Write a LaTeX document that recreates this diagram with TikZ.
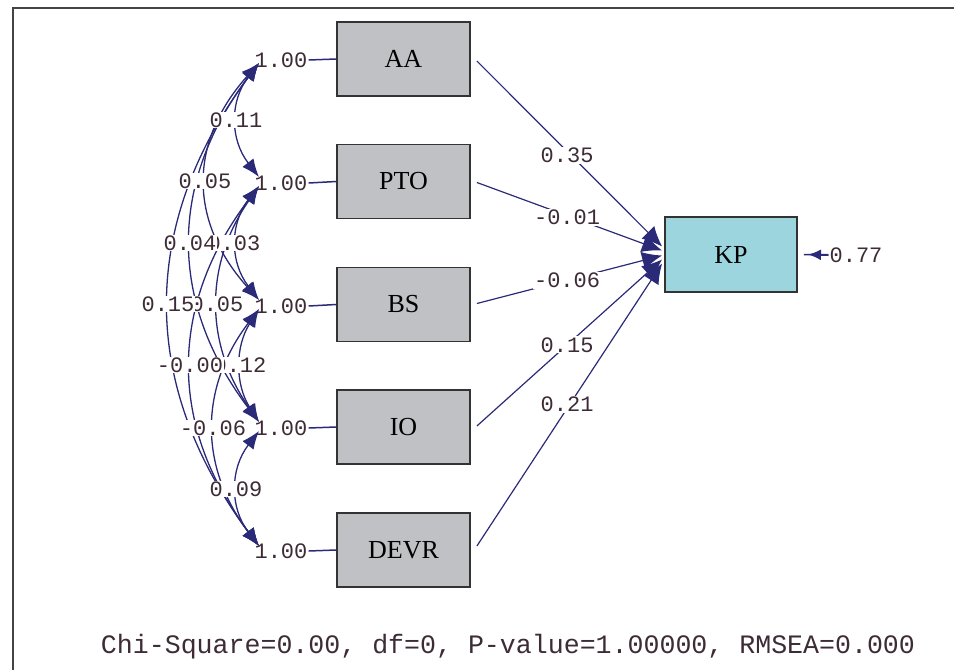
\documentclass[tikz,border=0pt]{standalone}
\usepackage{fontspec}
\setmainfont{Liberation Serif}
\setmonofont{Liberation Mono}
\usetikzlibrary{arrows.meta,calc}
\definecolor{navy}{HTML}{2B2A78}
\definecolor{boxgray}{HTML}{C0C1C4}
\definecolor{kpblue}{HTML}{9DD5DF}
\definecolor{numtxt}{HTML}{3D2B36}
\definecolor{framecol}{HTML}{444444}
\newcommand{\covcurve}[3]{%
  \draw[cov] (#1) .. controls ($(#1)!0.333!(#2)+({-4*#3/3},0)$) and ($(#1)!0.667!(#2)+({-4*#3/3},0)$) .. (#2);}
\begin{document}
\begin{tikzpicture}[x=1pt,y=-1pt,
  obs/.style={draw=black!80, line width=1.8pt, fill=boxgray, minimum width=133pt, minimum height=74pt, inner sep=0pt, font=\fontsize{26}{26}\selectfont},
  num/.style={font=\ttfamily\fontsize{22}{22}\selectfont, text=numtxt, inner sep=1pt},
  numbg/.style={num, fill=white},
  pathar/.style={navy, line width=1.2pt, -{Latex[length=20pt,width=18pt]}},
  cov/.style={navy, line width=1.3pt, {Latex[length=18pt,width=14pt]}-{Latex[length=18pt,width=14pt]}},
  varline/.style={navy, line width=1.5pt}]
\useasboundingbox (0,0) rectangle (954,670);
% frame
\draw[framecol, line width=2pt] (13,670) -- (13,8) -- (954,8);
% observed boxes
\node[obs] (AA) at (403.5,59) {AA};
\node[obs] (PTO) at (403.5,181.5) {PTO};
\node[obs] (BS) at (403.5,304.5) {BS};
\node[obs] (IO) at (403.5,427) {IO};
\node[obs] (DEVR) at (403.5,550) {DEVR};
\node[obs, fill=kpblue, minimum width=132pt, minimum height=75pt] (KP) at (731,254.5) {KP};
% variances
\node[num] (v1) at (281,60) {1.00};
\node[num] (v2) at (281,183) {1.00};
\node[num] (v3) at (281,306) {1.00};
\node[num] (v4) at (281,428) {1.00};
\node[num] (v5) at (281,551) {1.00};
\foreach \v/\b in {v1/AA,v2/PTO,v3/BS,v4/IO,v5/DEVR}{\draw[varline] (\v.east) -- (\b.west);}
% curve end points
\coordinate (c1b) at (259,63);
\coordinate (c2t) at (259,177);
\coordinate (c2b) at (259,186);
\coordinate (c3t) at (259,300);
\coordinate (c3b) at (259,309);
\coordinate (c4t) at (259,422);
\coordinate (c4b) at (259,431);
\coordinate (c5t) at (259,546);
% covariance curves
\covcurve{c1b}{c2t}{22}
\covcurve{c2b}{c3t}{22}
\covcurve{c3b}{c4t}{18}
\covcurve{c4b}{c5t}{22}
\covcurve{c1b}{c3t}{53}
\covcurve{c2b}{c4t}{41}
\covcurve{c3b}{c5t}{45}
\covcurve{c1b}{c4t}{68}
\covcurve{c2b}{c5t}{68}
\covcurve{c1b}{c5t}{90}
% covariance labels
\node[numbg] (l12) at (236,120) {0.11};
\node[numbg] (l23) at (234,243) {0.03};
\node[numbg] (l34) at (240,365) {0.12};
\node[numbg] (l45) at (236,489) {0.09};
\node[numbg] (l13) at (205,181) {0.05};
\node[numbg] (l24) at (217,304) {0.05};
\node[numbg] (l35) at (213,428) {-0.06};
\node[numbg] (l14) at (190,243) {0.04};
\node[numbg] (l25) at (190,365) {-0.00};
\node[numbg] (l15) at (168,304) {0.15};
% paths to KP
\draw[pathar] ([xshift=6pt,yshift=-2pt]AA.east) -- ([xshift=-2pt,yshift=8pt]KP.west) node[numbg, pos=0.487, yshift=-4pt] {0.35};
\draw[pathar] ([xshift=6pt,yshift=-1pt]PTO.east) -- ([xshift=-2pt,yshift=4pt]KP.west) node[numbg, pos=0.487, yshift=-2pt] {-0.01};
\draw[pathar] ([xshift=6pt,yshift=1pt]BS.east) -- ([xshift=-2pt,yshift=-1pt]KP.west) node[numbg, pos=0.487] {-0.06};
\draw[pathar] ([xshift=6pt,yshift=1pt]IO.east) -- ([xshift=-2pt,yshift=-5pt]KP.west) node[numbg, pos=0.487] {0.15};
\draw[pathar] ([xshift=6pt,yshift=4pt]DEVR.east) -- ([xshift=-2pt,yshift=-9pt]KP.west) node[numbg, pos=0.487, yshift=4pt] {0.21};
% error
\node[num] (e) at (856,255) {0.77};
\coordinate (eh) at (808,254.5);
\draw[varline] ([xshift=6pt]KP.east) -- (e.west);
\draw[navy, line width=2pt, -{Latex[length=13pt,width=11pt]}] (e.west) -- (eh);
% fit statistics
\node[font=\ttfamily\fontsize{26.6}{27}\selectfont, text=numtxt] (fit) at (508,647) {Chi-Square=0.00, df=0, P-value=1.00000, RMSEA=0.000};
\end{tikzpicture}
\end{document}
